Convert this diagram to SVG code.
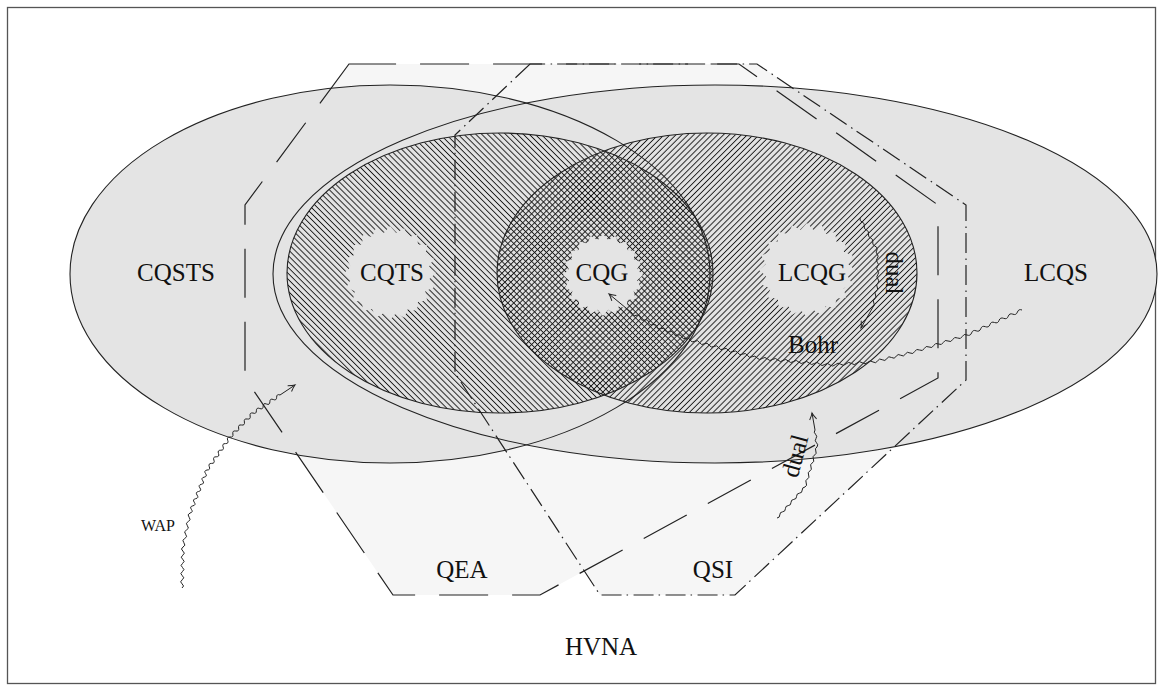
<svg xmlns="http://www.w3.org/2000/svg" xmlns:xlink="http://www.w3.org/1999/xlink" width="1163" height="691" viewBox="0 0 1163 691">
<style>
.frame{fill:#ffffff;stroke:#555555;stroke-width:1.3}
.fill-gray{fill:#e4e4e4;stroke:none}
.fill-hex{fill:#f6f6f6;stroke:none}
.fill-nw{fill:url(#hatchNW);stroke:none}
.fill-ne{fill:url(#hatchNE);stroke:none}
.star{fill:#e4e4e4;stroke:none}
.outline{fill:none;stroke:#222222;stroke-width:1.1}
.qea-line{fill:none;stroke:#222222;stroke-width:1.2;stroke-dasharray:49 24}
.qsi-line{fill:none;stroke:#222222;stroke-width:1.2;stroke-dasharray:20 5 1.5 5.5}
.lbl{font-family:"Liberation Serif","DejaVu Serif",serif;font-size:25px;fill:#111111;text-anchor:middle}
.small{font-size:16px}
.wave{fill:none;stroke:#222222;stroke-width:1;marker-end:url(#arr)}
</style>
<defs>
<pattern id="hatchNW" patternUnits="userSpaceOnUse" width="4.2" height="8" patternTransform="rotate(-45)">
<line x1="2.1" y1="-1" x2="2.1" y2="9" stroke="#1a1a1a" stroke-width="0.95"/>
</pattern>
<pattern id="hatchNE" patternUnits="userSpaceOnUse" width="4.2" height="8" patternTransform="rotate(45)">
<line x1="2.1" y1="-1" x2="2.1" y2="9" stroke="#1a1a1a" stroke-width="0.95"/>
</pattern>
<marker id="arr" markerUnits="userSpaceOnUse" markerWidth="12" markerHeight="12" viewBox="-9 -6 12 12" refX="0" refY="0" orient="auto">
<path d="M-6.5,-3.5 Q-2.5,-0.8 0,0 Q-2.5,0.8 -6.5,3.5" fill="none" stroke="#222222" stroke-width="1"/>
</marker>
<ellipse id="geo-cqsts" cx="390" cy="274" rx="320" ry="189"/>
<ellipse id="geo-lcqs" cx="715" cy="274" rx="442" ry="189"/>
<ellipse id="geo-cqts" cx="500" cy="273" rx="213" ry="140"/>
<ellipse id="geo-lcqg" cx="707" cy="273" rx="210" ry="140"/>
<polygon id="geo-qea" points="349,64 245,205 245,378 393,595 540,595 938,378 938,205 739,64"/>
<polygon id="geo-qsi" points="530,64 455,135 455,373 600,595 735,595 966,380 966,205 757,64"/>
<path id="star" d="M1,0 L0.850,0.134 0.951,0.309 0.766,0.390 0.809,0.588 0.608,0.608 0.588,0.809 0.390,0.766 0.309,0.951 0.134,0.850 0,1 -0.134,0.850 -0.309,0.951 -0.390,0.766 -0.588,0.809 -0.608,0.608 -0.809,0.588 -0.766,0.390 -0.951,0.309 -0.850,0.134 -1,0 -0.850,-0.134 -0.951,-0.309 -0.766,-0.390 -0.809,-0.588 -0.608,-0.608 -0.588,-0.809 -0.390,-0.766 -0.309,-0.951 -0.134,-0.850 0,-1 0.134,-0.850 0.309,-0.951 0.390,-0.766 0.588,-0.809 0.608,-0.608 0.809,-0.588 0.766,-0.390 0.951,-0.309 0.850,-0.134 Z"/>
</defs>

<g id="node-hvna">
<rect class="frame" x="7.5" y="7.5" width="1148" height="676"/>
<text class="lbl" x="601" y="655">HVNA</text>
</g>

<g id="node-qea">
<use href="#geo-qea" class="fill-hex"/>
<text class="lbl" x="462" y="578">QEA</text>
</g>

<g id="node-qsi">
<use href="#geo-qsi" class="fill-hex"/>
<text class="lbl" x="713" y="578">QSI</text>
</g>

<g id="node-cqsts">
<use href="#geo-cqsts" class="fill-gray"/>
<text class="lbl" x="176" y="281">CQSTS</text>
</g>

<g id="node-lcqs">
<use href="#geo-lcqs" class="fill-gray"/>
<text class="lbl" x="1056" y="281">LCQS</text>
</g>

<g id="node-cqts">
<use href="#geo-cqts" class="fill-nw"/>
<use href="#star" class="star" transform="translate(390,273) scale(46,47)"/>
<text class="lbl" x="392" y="281">CQTS</text>
</g>

<g id="node-lcqg">
<use href="#geo-lcqg" class="fill-ne"/>
<use href="#star" class="star" transform="translate(807,270) scale(48,47)"/>
<text class="lbl" x="812" y="281">LCQG</text>
</g>

<g id="node-cqg">
<use href="#star" class="star" transform="translate(603,275) scale(40,41)"/>
<text class="lbl" x="602" y="281">CQG</text>
</g>

<g id="outlines">
<use href="#geo-cqsts" class="outline"/>
<use href="#geo-lcqs" class="outline"/>
<use href="#geo-cqts" class="outline"/>
<use href="#geo-lcqg" class="outline"/>
<use href="#geo-qea" class="qea-line"/>
<use href="#geo-qsi" class="qsi-line"/>
</g>

<g id="connectors">
<path id="conn-wap" class="wave" d="M182,588 q3.05,-1.98 0.1,-4.1 t0.1,-4.1 t0.1,-4.1 t0.1,-4.1 t0.1,-4.1 t0.1,-4.1 t0.1,-4.1 t0.1,-4.1 t0.1,-4.1 t0.1,-4.1 q3.38,-1.52 0.875,-4.25 t0.875,-4.25 t0.875,-4.25 t0.875,-4.25 t0.875,-4.25 t0.875,-4.25 t0.875,-4.25 t0.875,-4.25 q3.5,-0.69 1.417,-3.583 t1.417,-3.583 t1.417,-3.583 t1.417,-3.583 t1.417,-3.583 t1.417,-3.583 t1.417,-3.583 t1.417,-3.583 t1.417,-3.583 t1.417,-3.583 t1.417,-3.583 t1.417,-3.583 q3.61,0.07 2.3,-3.3 t2.3,-3.3 t2.3,-3.3 t2.3,-3.3 t2.3,-3.3 t2.3,-3.3 t2.3,-3.3 t2.3,-3.3 t2.3,-3.3 t2.3,-3.3 q3.61,0.58 2.875,-3 t2.875,-3 t2.875,-3 t2.875,-3 t2.875,-3 t2.875,-3 t2.875,-3 t2.875,-3 q3.35,1.37 3.375,-2.25 t3.375,-2.25 t3.375,-2.25 t3.375,-2.25 t3.375,-2.25 t3.375,-2.25 t3.375,-2.25 t3.375,-2.25 L295,385"/>
<text class="lbl small" x="158" y="531">WAP</text>

<path id="conn-bohr" class="wave" d="M1022,310 q-3.368,-1.326 -4.583,2.083 t-4.583,2.083 t-4.583,2.083 t-4.583,2.083 t-4.583,2.083 t-4.583,2.083 t-4.583,2.083 t-4.583,2.083 t-4.583,2.083 t-4.583,2.083 t-4.583,2.083 t-4.583,2.083 q-3.158,-1.728 -4.75,1.5 t-4.75,1.5 t-4.75,1.5 t-4.75,1.5 t-4.75,1.5 t-4.75,1.5 t-4.75,1.5 t-4.75,1.5 t-4.75,1.5 t-4.75,1.5 t-4.75,1.5 t-4.75,1.5 q-2.927,-1.962 -4.625,1.125 t-4.625,1.125 t-4.625,1.125 t-4.625,1.125 t-4.625,1.125 t-4.625,1.125 t-4.625,1.125 t-4.625,1.125 q-2.869,-2.406 -5.375,0.375 t-5.375,0.375 t-5.375,0.375 t-5.375,0.375 t-5.375,0.375 t-5.375,0.375 t-5.375,0.375 t-5.375,0.375 q-2.359,-2.838 -5.214,-0.5 t-5.214,-0.5 t-5.214,-0.5 t-5.214,-0.5 t-5.214,-0.5 t-5.214,-0.5 t-5.214,-0.5 t-5.214,-0.5 t-5.214,-0.5 t-5.214,-0.5 t-5.214,-0.5 t-5.214,-0.5 t-5.214,-0.5 t-5.214,-0.5 q-1.719,-3.153 -4.786,-1.286 t-4.786,-1.286 t-4.786,-1.286 t-4.786,-1.286 t-4.786,-1.286 t-4.786,-1.286 t-4.786,-1.286 t-4.786,-1.286 t-4.786,-1.286 t-4.786,-1.286 t-4.786,-1.286 t-4.786,-1.286 t-4.786,-1.286 t-4.786,-1.286 q-1.11,-3.232 -4.125,-1.625 t-4.125,-1.625 t-4.125,-1.625 t-4.125,-1.625 t-4.125,-1.625 t-4.125,-1.625 t-4.125,-1.625 t-4.125,-1.625 q-0.812,-3.436 -4.167,-2.333 t-4.167,-2.333 t-4.167,-2.333 t-4.167,-2.333 t-4.167,-2.333 t-4.167,-2.333 L609,294"/>
<text class="lbl" x="813" y="353">Bohr</text>

<path id="conn-dual1" class="wave" d="M860,218 q-0.706,2.939 2.125,4 t2.125,4 t2.125,4 t2.125,4 t2.125,4 t2.125,4 t2.125,4 t2.125,4 q-1.937,2.123 0.125,4.125 t0.125,4.125 t0.125,4.125 t0.125,4.125 t0.125,4.125 t0.125,4.125 t0.125,4.125 t0.125,4.125 q-2.375,1.592 -0.833,4 t-0.833,4 t-0.833,4 t-0.833,4 t-0.833,4 t-0.833,4 L861,328"/>
<text class="lbl" transform="translate(886,273) rotate(90)">dual</text>

<path id="conn-dual2" class="wave" d="M777,518 q2.884,-0.21 2.8,-3.1 t2.8,-3.1 t2.8,-3.1 t2.8,-3.1 t2.8,-3.1 t2.8,-3.1 t2.8,-3.1 t2.8,-3.1 t2.8,-3.1 t2.8,-3.1 q2.514,-1.426 1.2,-4 t1.2,-4 t1.2,-4 t1.2,-4 t1.2,-4 t1.2,-4 t1.2,-4 t1.2,-4 t1.2,-4 t1.2,-4 q1.736,-2.359 -0.5,-4.25 t-0.5,-4.25 t-0.5,-4.25 t-0.5,-4.25 L812,413"/>
<text class="lbl" transform="translate(803,458) rotate(-75)">dual</text>
</g>
</svg>
